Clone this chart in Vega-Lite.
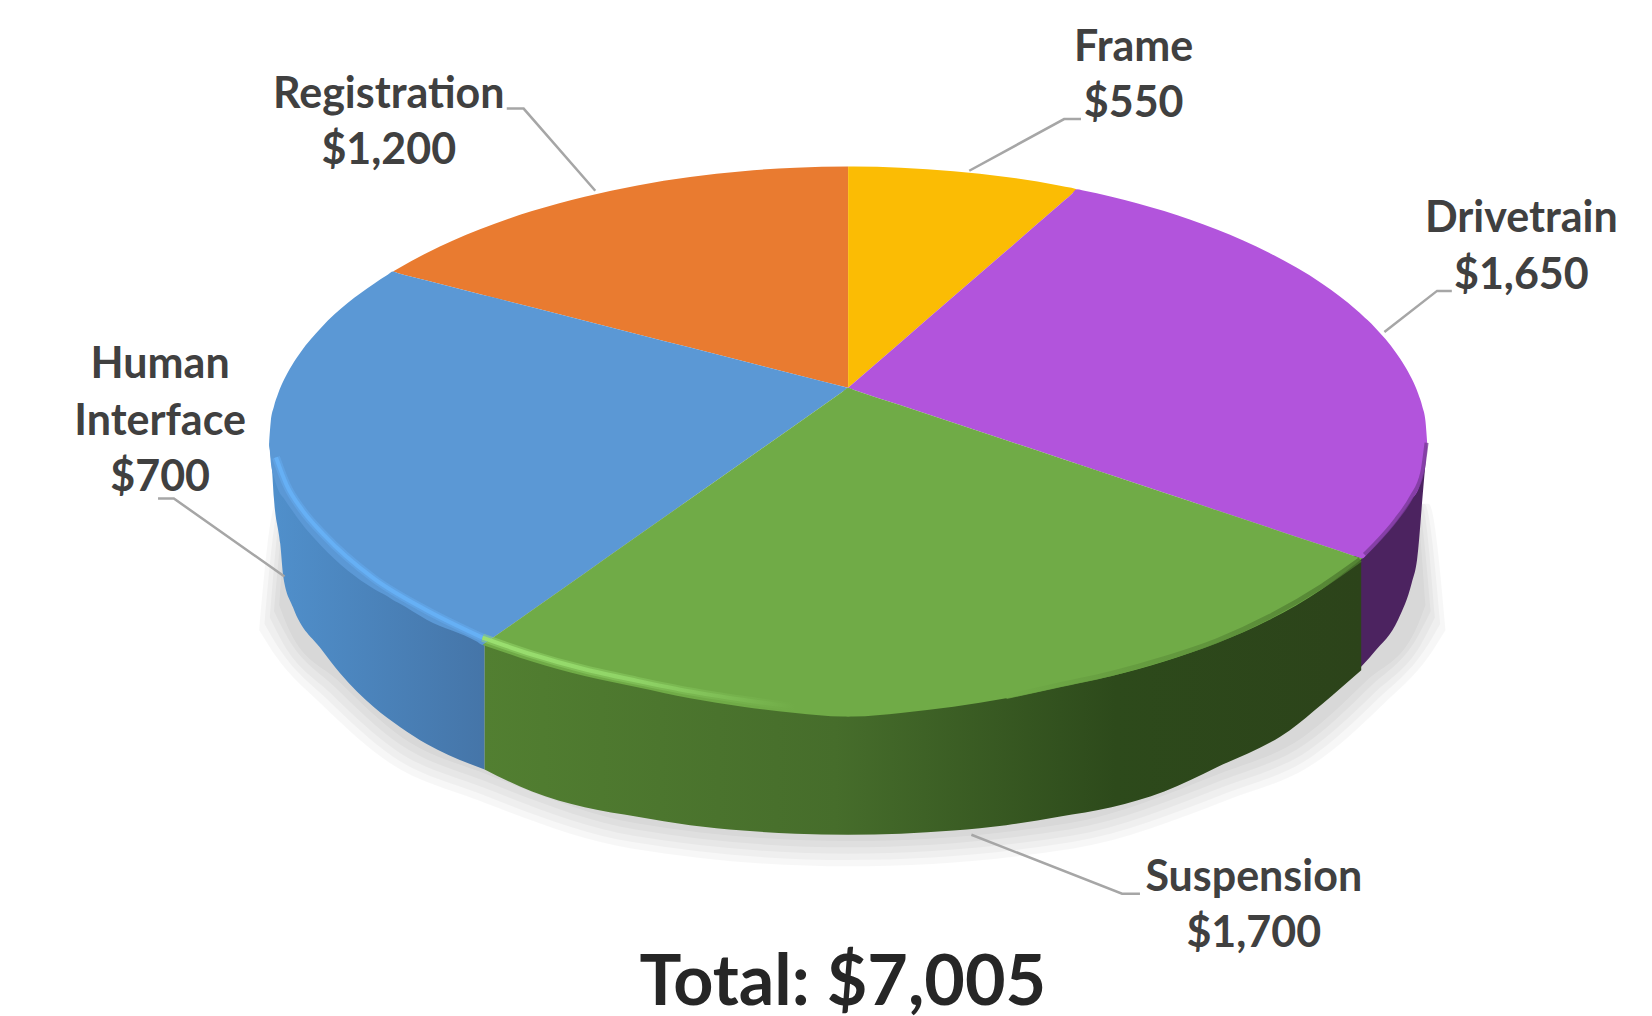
{
"$schema":"https://vega.github.io/schema/vega-lite/v6.json",
"width":1652,"height":1016,"padding":0,
"autosize":{"type":"none"},
"background":"white",
"view":{"stroke":null},
"datasets":{
"shadow":[
{"band":"a","x":-559,"t":-230,"b":-230},{"band":"a","x":-543,"t":-110,"b":-255},{"band":"a","x":-498,"t":-110,"b":-302},{"band":"a","x":-435,"t":-110,"b":-356},{"band":"a","x":-352,"t":-110,"b":-391},{"band":"a","x":-206,"t":-110,"b":-437},{"band":"a","x":0,"t":-110,"b":-454},{"band":"a","x":214,"t":-110,"b":-437},{"band":"a","x":360,"t":-110,"b":-391},{"band":"a","x":443,"t":-110,"b":-356},{"band":"a","x":506,"t":-110,"b":-302},{"band":"a","x":551,"t":-110,"b":-255},{"band":"a","x":567,"t":-230,"b":-230},
{"band":"b","x":-554,"t":-224,"b":-224},{"band":"b","x":-539,"t":-110,"b":-249},{"band":"b","x":-494,"t":-110,"b":-296},{"band":"b","x":-432,"t":-110,"b":-350},{"band":"b","x":-350,"t":-110,"b":-385},{"band":"b","x":-205,"t":-110,"b":-431},{"band":"b","x":0,"t":-110,"b":-448},{"band":"b","x":213,"t":-110,"b":-431},{"band":"b","x":358,"t":-110,"b":-385},{"band":"b","x":440,"t":-110,"b":-350},{"band":"b","x":502,"t":-110,"b":-296},{"band":"b","x":547,"t":-110,"b":-249},{"band":"b","x":562,"t":-224,"b":-224},
{"band":"c","x":-549,"t":-218,"b":-218},{"band":"c","x":-536,"t":-110,"b":-243},{"band":"c","x":-491,"t":-110,"b":-290},{"band":"c","x":-429,"t":-110,"b":-344},{"band":"c","x":-347,"t":-110,"b":-379},{"band":"c","x":-204,"t":-110,"b":-425},{"band":"c","x":0,"t":-110,"b":-442},{"band":"c","x":212,"t":-110,"b":-425},{"band":"c","x":355,"t":-110,"b":-379},{"band":"c","x":437,"t":-110,"b":-344},{"band":"c","x":499,"t":-110,"b":-290},{"band":"c","x":544,"t":-110,"b":-243},{"band":"c","x":557,"t":-218,"b":-218},
{"band":"d","x":-545,"t":-212,"b":-212},{"band":"d","x":-532,"t":-110,"b":-237},{"band":"d","x":-487,"t":-110,"b":-284},{"band":"d","x":-426,"t":-110,"b":-338},{"band":"d","x":-345,"t":-110,"b":-373},{"band":"d","x":-202,"t":-110,"b":-419},{"band":"d","x":0,"t":-110,"b":-436},{"band":"d","x":210,"t":-110,"b":-419},{"band":"d","x":353,"t":-110,"b":-373},{"band":"d","x":434,"t":-110,"b":-338},{"band":"d","x":495,"t":-110,"b":-284},{"band":"d","x":540,"t":-110,"b":-237},{"band":"d","x":553,"t":-212,"b":-212},
{"band":"e","x":-540,"t":-206,"b":-206},{"band":"e","x":-530,"t":-110,"b":-231},{"band":"e","x":-484,"t":-110,"b":-278},{"band":"e","x":-423,"t":-110,"b":-332},{"band":"e","x":-342,"t":-110,"b":-367},{"band":"e","x":-201,"t":-110,"b":-413},{"band":"e","x":0,"t":-110,"b":-430},{"band":"e","x":209,"t":-110,"b":-413},{"band":"e","x":350,"t":-110,"b":-367},{"band":"e","x":431,"t":-110,"b":-332},{"band":"e","x":492,"t":-110,"b":-278},{"band":"e","x":538,"t":-110,"b":-231},{"band":"e","x":548,"t":-206,"b":-206}
],
"wallHuman":[
{"x":-549.5,"t":-51,"b":-55},{"x":-547,"t":-60,"b":-75},{"x":-545,"t":-74,"b":-105},{"x":-539,"t":-90,"b":-148},{"x":-536,"t":-96,"b":-180},{"x":-527,"t":-110,"b":-208},{"x":-500,"t":-142,"b":-248},{"x":-482,"t":-158,"b":-271},{"x":-450,"t":-183,"b":-303},{"x":-425,"t":-197,"b":-322},{"x":-400,"t":-212,"b":-338},{"x":-345,"t":-237,"b":-362}
],
"wallSuspension":[
{"x":-345,"t":-237,"b":-362},{"x":-300,"t":-252,"b":-383},{"x":-250,"t":-265,"b":-398},{"x":-200,"t":-276,"b":-407},{"x":-150,"t":-287,"b":-415},{"x":-100,"t":-295,"b":-420},{"x":-50,"t":-300,"b":-423},{"x":0,"t":-304,"b":-424},{"x":50,"t":-300,"b":-423},{"x":100,"t":-295,"b":-420},{"x":150,"t":-287,"b":-415},{"x":200,"t":-276,"b":-407},{"x":250,"t":-265,"b":-398},{"x":300,"t":-252,"b":-383},{"x":350,"t":-234,"b":-360},{"x":419,"t":-202,"b":-325},{"x":450,"t":-183,"b":-300},{"x":487,"t":-154,"b":-268}
],
"wallDrivetrain":[
{"x":480,"t":-154,"b":-272},{"x":500,"t":-142,"b":-250},{"x":522,"t":-117,"b":-220},{"x":535,"t":-98,"b":-185},{"x":540,"t":-88,"b":-163},{"x":546,"t":-72,"b":-94},{"x":549.5,"t":-51,"b":-55}
],
"tops":[
{"slice":"Registration","amount":1200,"x":-432,"t":110.3,"b":110.3},{"slice":"Registration","amount":1200,"x":-427,"t":113.3,"b":108.7},{"slice":"Registration","amount":1200,"x":-400,"t":128,"b":101.9},{"slice":"Registration","amount":1200,"x":-350,"t":150.2,"b":89.1},{"slice":"Registration","amount":1200,"x":-300,"t":167.7,"b":76.4},{"slice":"Registration","amount":1200,"x":-250,"t":181.4,"b":63.7},{"slice":"Registration","amount":1200,"x":-200,"t":192.1,"b":50.9},{"slice":"Registration","amount":1200,"x":-150,"t":200.1,"b":38.2},{"slice":"Registration","amount":1200,"x":-100,"t":205.6,"b":25.5},{"slice":"Registration","amount":1200,"x":-50,"t":208.9,"b":12.7},{"slice":"Registration","amount":1200,"x":0,"t":210,"b":0},
{"slice":"Frame","amount":550,"x":0,"t":210,"b":0},{"slice":"Frame","amount":550,"x":5,"t":210,"b":4.3},{"slice":"Frame","amount":550,"x":50,"t":208.9,"b":43.3},{"slice":"Frame","amount":550,"x":100,"t":205.6,"b":86.6},{"slice":"Frame","amount":550,"x":150,"t":200.1,"b":129.9},{"slice":"Frame","amount":550,"x":200,"t":192.1,"b":173.2},{"slice":"Frame","amount":550,"x":212,"t":189.8,"b":183.6},{"slice":"Frame","amount":550,"x":217,"t":188.5,"b":188.5},
{"slice":"Drivetrain","amount":1650,"x":0,"t":0,"b":0},{"slice":"Drivetrain","amount":1650,"x":5,"t":4.3,"b":-1.7},{"slice":"Drivetrain","amount":1650,"x":50,"t":43.3,"b":-16.6},{"slice":"Drivetrain","amount":1650,"x":100,"t":86.6,"b":-33.2},{"slice":"Drivetrain","amount":1650,"x":150,"t":129.9,"b":-49.8},{"slice":"Drivetrain","amount":1650,"x":200,"t":173.2,"b":-66.4},{"slice":"Drivetrain","amount":1650,"x":212,"t":183.6,"b":-70.4},{"slice":"Drivetrain","amount":1650,"x":217,"t":188.5,"b":-72},{"slice":"Drivetrain","amount":1650,"x":222,"t":187.6,"b":-73.7},{"slice":"Drivetrain","amount":1650,"x":250,"t":181.4,"b":-83},{"slice":"Drivetrain","amount":1650,"x":300,"t":167.7,"b":-99.6},{"slice":"Drivetrain","amount":1650,"x":350,"t":150.2,"b":-116.2},{"slice":"Drivetrain","amount":1650,"x":400,"t":128,"b":-132.8},{"slice":"Drivetrain","amount":1650,"x":450,"t":98.8,"b":-149.4},{"slice":"Drivetrain","amount":1650,"x":483,"t":73.5,"b":-160.4},{"slice":"Drivetrain","amount":1650,"x":488,"t":69,"b":-162},{"slice":"Drivetrain","amount":1650,"x":493,"t":64.3,"b":-157.4},{"slice":"Drivetrain","amount":1650,"x":500,"t":57.3,"b":-150},{"slice":"Drivetrain","amount":1650,"x":520,"t":33.4,"b":-127},{"slice":"Drivetrain","amount":1650,"x":528,"t":21.3,"b":-116},{"slice":"Drivetrain","amount":1650,"x":535,"t":8.6,"b":-105.6},{"slice":"Drivetrain","amount":1650,"x":541,"t":-5.3,"b":-96.7},{"slice":"Drivetrain","amount":1650,"x":545,"t":-17.6,"b":-84.4},{"slice":"Drivetrain","amount":1650,"x":548,"t":-31.7,"b":-70.3},{"slice":"Drivetrain","amount":1650,"x":549.5,"t":-51,"b":-51},
{"slice":"Human Interface","amount":700,"x":-549.5,"t":-51,"b":-51},{"slice":"Human Interface","amount":700,"x":-548,"t":-31.7,"b":-70.3},{"slice":"Human Interface","amount":700,"x":-545,"t":-17.6,"b":-84.4},{"slice":"Human Interface","amount":700,"x":-541,"t":-5.3,"b":-96.7},{"slice":"Human Interface","amount":700,"x":-535,"t":8.6,"b":-105.6},{"slice":"Human Interface","amount":700,"x":-528,"t":21.3,"b":-116},{"slice":"Human Interface","amount":700,"x":-520,"t":33.4,"b":-127},{"slice":"Human Interface","amount":700,"x":-500,"t":57.3,"b":-150},{"slice":"Human Interface","amount":700,"x":-450,"t":98.8,"b":-190.8},{"slice":"Human Interface","amount":700,"x":-437,"t":107.2,"b":-198},{"slice":"Human Interface","amount":700,"x":-432,"t":110.3,"b":-201.3},{"slice":"Human Interface","amount":700,"x":-427,"t":108.7,"b":-204},{"slice":"Human Interface","amount":700,"x":-400,"t":101.9,"b":-220},{"slice":"Human Interface","amount":700,"x":-352,"t":89.6,"b":-241},{"slice":"Human Interface","amount":700,"x":-347,"t":88.4,"b":-244},{"slice":"Human Interface","amount":700,"x":-342,"t":87.1,"b":-240.5},{"slice":"Human Interface","amount":700,"x":-300,"t":76.4,"b":-211},{"slice":"Human Interface","amount":700,"x":-250,"t":63.7,"b":-175.8},{"slice":"Human Interface","amount":700,"x":-200,"t":50.9,"b":-140.6},{"slice":"Human Interface","amount":700,"x":-150,"t":38.2,"b":-105.5},{"slice":"Human Interface","amount":700,"x":-100,"t":25.5,"b":-70.3},{"slice":"Human Interface","amount":700,"x":-50,"t":12.7,"b":-35.2},{"slice":"Human Interface","amount":700,"x":-5,"t":1.3,"b":-3.5},{"slice":"Human Interface","amount":700,"x":0,"t":0,"b":0},
{"slice":"Suspension","amount":1700,"x":-347,"t":-244,"b":-244},{"slice":"Suspension","amount":1700,"x":-342,"t":-240.5,"b":-245.6},{"slice":"Suspension","amount":1700,"x":-300,"t":-211,"b":-259.7},{"slice":"Suspension","amount":1700,"x":-250,"t":-175.8,"b":-273.4},{"slice":"Suspension","amount":1700,"x":-200,"t":-140.6,"b":-284.1},{"slice":"Suspension","amount":1700,"x":-150,"t":-105.5,"b":-294.6},{"slice":"Suspension","amount":1700,"x":-100,"t":-70.3,"b":-302.6},{"slice":"Suspension","amount":1700,"x":-50,"t":-35.2,"b":-308.4},{"slice":"Suspension","amount":1700,"x":-5,"t":-3.5,"b":-311.9},{"slice":"Suspension","amount":1700,"x":0,"t":0,"b":-312},{"slice":"Suspension","amount":1700,"x":5,"t":-1.7,"b":-311.9},{"slice":"Suspension","amount":1700,"x":50,"t":-16.6,"b":-308.4},{"slice":"Suspension","amount":1700,"x":100,"t":-33.2,"b":-302.6},{"slice":"Suspension","amount":1700,"x":150,"t":-49.8,"b":-294.6},{"slice":"Suspension","amount":1700,"x":200,"t":-66.4,"b":-284.1},{"slice":"Suspension","amount":1700,"x":250,"t":-83,"b":-273.4},{"slice":"Suspension","amount":1700,"x":300,"t":-99.6,"b":-259.7},{"slice":"Suspension","amount":1700,"x":350,"t":-116.2,"b":-242.2},{"slice":"Suspension","amount":1700,"x":400,"t":-132.8,"b":-220},{"slice":"Suspension","amount":1700,"x":450,"t":-149.4,"b":-190.8},{"slice":"Suspension","amount":1700,"x":483,"t":-160.4,"b":-166},{"slice":"Suspension","amount":1700,"x":488,"t":-162,"b":-162}
],
"rimBlue":[
{"x":-543,"y":-66},{"x":-533,"y":-92},{"x":-518,"y":-116},{"x":-498,"y":-139},{"x":-450,"y":-181},{"x":-400,"y":-211},{"x":-347,"y":-237}
],
"rimGreen":[
{"x":-347,"y":-237},{"x":-300,"y":-253},{"x":-250,"y":-267},{"x":-200,"y":-278},{"x":-150,"y":-288},{"x":-100,"y":-296},{"x":-50,"y":-303}
],
"rimDarkGreen":[
{"x":150,"y":-293},{"x":200,"y":-282},{"x":250,"y":-271},{"x":300,"y":-257},{"x":350,"y":-240},{"x":400,"y":-217},{"x":450,"y":-188},{"x":486,"y":-163}
],
"rimDarkPurple":[
{"x":490,"y":-158},{"x":500,"y":-148},{"x":520,"y":-125},{"x":535,"y":-103},{"x":545,"y":-80},{"x":549,"y":-52}
],
"leaders":[
{"slice":"Frame","order":1,"x":115,"y":206},{"slice":"Frame","order":2,"x":205,"y":255},{"slice":"Frame","order":3,"x":221,"y":255},
{"slice":"Registration","order":1,"x":-240,"y":187},{"slice":"Registration","order":2,"x":-308,"y":265},{"slice":"Registration","order":3,"x":-324,"y":265},
{"slice":"Drivetrain","order":1,"x":509,"y":53},{"slice":"Drivetrain","order":2,"x":559,"y":92},{"slice":"Drivetrain","order":3,"x":573,"y":92},
{"slice":"Human Interface","order":1,"x":-535,"y":-179},{"slice":"Human Interface","order":2,"x":-640,"y":-105},{"slice":"Human Interface","order":3,"x":-655,"y":-105},
{"slice":"Suspension","order":1,"x":117,"y":-424},{"slice":"Suspension","order":2,"x":260,"y":-480},{"slice":"Suspension","order":3,"x":277,"y":-480}
],
"labels":[
{"label":"Frame","x":271,"y":322},{"label":"$550","x":271,"y":269},
{"label":"Registration","x":-436,"y":278},{"label":"$1,200","x":-436,"y":225},
{"label":"Drivetrain","x":639,"y":160},{"label":"$1,650","x":639,"y":106},
{"label":"Human","x":-653,"y":22},{"label":"Interface","x":-653,"y":-32},{"label":"$700","x":-653,"y":-86},
{"label":"Suspension","x":385,"y":-465},{"label":"$1,700","x":385,"y":-518}
],
"total":[{"label":"Total: $7,005","x":-5,"y":-566}]
},
"encoding":{
"x":{"field":"x","type":"quantitative","axis":null,"scale":{"domain":[-805,763],"nice":false,"zero":false}}
},
"layer":[
{"data":{"name":"shadow"},"mark":{"type":"area","color":"#000000","opacity":0.032,"interpolate":"monotone"},
"encoding":{"detail":{"field":"band"},"y":{"field":"t","type":"quantitative","axis":null,"scale":{"domain":[-596,368],"nice":false,"zero":false}},"y2":{"field":"b"}}},
{"data":{"name":"wallHuman"},"mark":{"type":"area","interpolate":"monotone","color":{"gradient":"linear","x1":0,"x2":1,"y1":0,"y2":0,"stops":[{"offset":0,"color":"#5090cc"},{"offset":1,"color":"#4575a8"}]}},
"encoding":{"y":{"field":"t","type":"quantitative"},"y2":{"field":"b"}}},
{"data":{"name":"wallDrivetrain"},"mark":{"type":"area","interpolate":"monotone","color":"#4c2360"},
"encoding":{"y":{"field":"t","type":"quantitative"},"y2":{"field":"b"}}},
{"data":{"name":"wallSuspension"},"mark":{"type":"area","interpolate":"monotone","color":{"gradient":"linear","x1":0,"x2":1,"y1":0,"y2":0,"stops":[{"offset":0,"color":"#527f31"},{"offset":0.4,"color":"#466d2b"},{"offset":0.72,"color":"#2d4a1b"},{"offset":1,"color":"#2c431a"}]}},
"encoding":{"y":{"field":"t","type":"quantitative"},"y2":{"field":"b"}}},
{"data":{"name":"tops"},"mark":{"type":"area","interpolate":"monotone"},
"encoding":{"y":{"field":"t","type":"quantitative"},"y2":{"field":"b"},
"color":{"field":"slice","type":"nominal","legend":null,"scale":{"domain":["Frame","Drivetrain","Suspension","Human Interface","Registration"],"range":["#fbbc04","#b254dc","#70ab47","#5b98d5","#e97b30"]}}}},
{"data":{"name":"rimBlue"},"mark":{"type":"line","stroke":"#66b0f5","strokeWidth":8,"opacity":0.45,"interpolate":"monotone"},
"encoding":{"y":{"field":"y","type":"quantitative"}}},
{"data":{"name":"rimBlue"},"mark":{"type":"line","stroke":"#66b0f5","strokeWidth":4,"interpolate":"monotone"},
"encoding":{"y":{"field":"y","type":"quantitative"}}},
{"data":{"name":"rimGreen"},"mark":{"type":"line","strokeWidth":8,"opacity":0.45,"interpolate":"monotone","stroke":{"gradient":"linear","x1":0,"x2":1,"y1":0,"y2":0,"stops":[{"offset":0,"color":"#9be070"},{"offset":0.5,"color":"#8fd366"},{"offset":1,"color":"#70ab47"}]}},
"encoding":{"y":{"field":"y","type":"quantitative"}}},
{"data":{"name":"rimGreen"},"mark":{"type":"line","strokeWidth":4,"interpolate":"monotone","stroke":{"gradient":"linear","x1":0,"x2":1,"y1":0,"y2":0,"stops":[{"offset":0,"color":"#9be070"},{"offset":0.5,"color":"#8fd366"},{"offset":1,"color":"#70ab47"}]}},
"encoding":{"y":{"field":"y","type":"quantitative"}}},
{"data":{"name":"rimDarkGreen"},"mark":{"type":"line","strokeWidth":5,"opacity":0.8,"interpolate":"monotone","stroke":{"gradient":"linear","x1":0,"x2":1,"y1":0,"y2":0,"stops":[{"offset":0,"color":"#70ab47"},{"offset":1,"color":"#4d7a2f"}]}},
"encoding":{"y":{"field":"y","type":"quantitative"}}},
{"data":{"name":"rimDarkPurple"},"mark":{"type":"line","stroke":"#7a3a9a","strokeWidth":4,"opacity":0.8,"interpolate":"monotone"},
"encoding":{"y":{"field":"y","type":"quantitative"}}},
{"data":{"name":"leaders"},"mark":{"type":"line","stroke":"#a6a6a6","strokeWidth":2.5},
"encoding":{"detail":{"field":"slice"},"order":{"field":"order"},"y":{"field":"y","type":"quantitative"}}},
{"data":{"name":"labels"},"mark":{"type":"text","font":"Lato","fontWeight":"bold","fontSize":43,"color":"#404040","baseline":"middle","align":"center"},
"encoding":{"y":{"field":"y","type":"quantitative"},"text":{"field":"label"}}},
{"data":{"name":"total"},"mark":{"type":"text","font":"Lato","fontWeight":"bold","fontSize":70,"color":"#262626","baseline":"middle","align":"center"},
"encoding":{"y":{"field":"y","type":"quantitative"},"text":{"field":"label"}}}
]
}
